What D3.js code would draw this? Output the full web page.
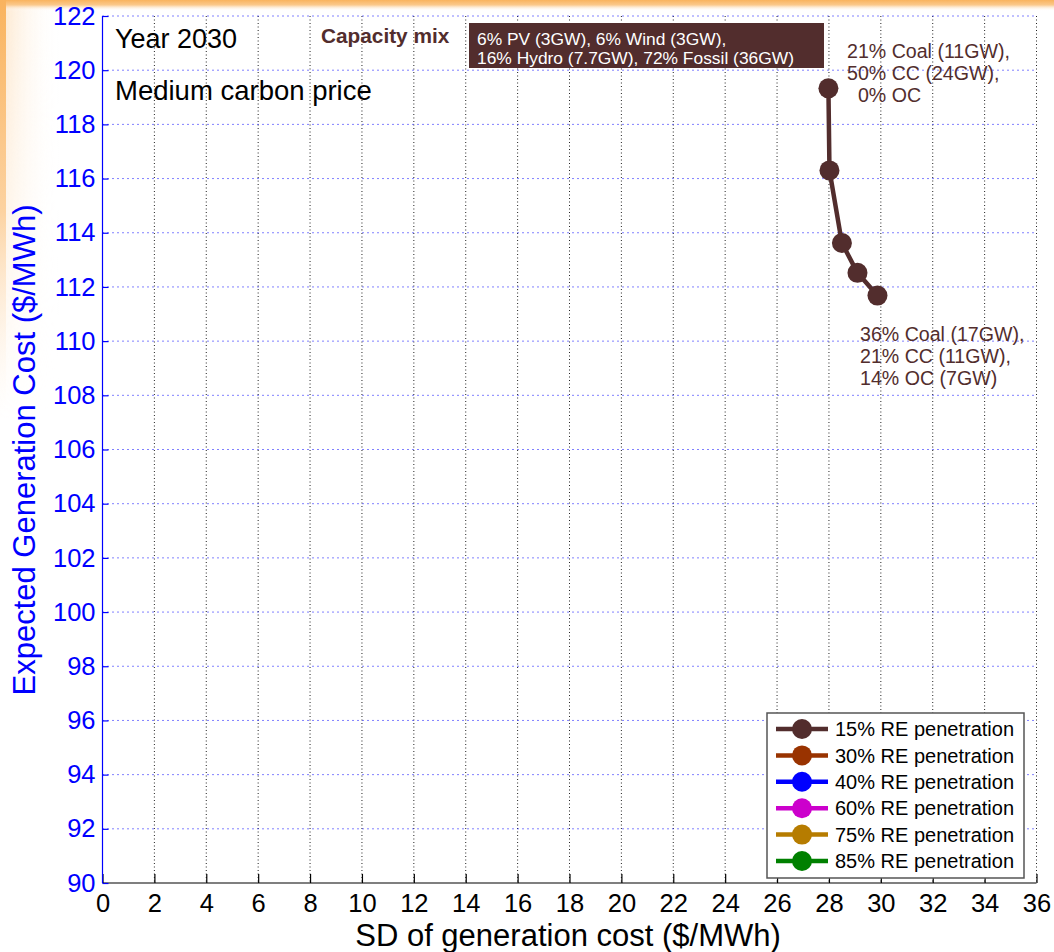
<!DOCTYPE html>
<html>
<head>
<meta charset="utf-8">
<script src="https://cdn.jsdelivr.net/npm/d3@7"></script>
<style>
  html, body { margin: 0; padding: 0; background: #fff; }
  svg { display: block; font-family: "Liberation Sans", Arial, sans-serif; }
</style>
</head>
<body>
<svg id="chart" width="1054" height="952"></svg>
<script>
// ---- data ----
const seriesNames = ["15% RE penetration", "30% RE penetration", "40% RE penetration",
                     "60% RE penetration", "75% RE penetration", "85% RE penetration"];
const seriesColors = ["#522d2d", "#993300", "#0000ff", "#cc00cc", "#b67c00", "#008000"];
// Only the 15% RE series has plotted points
const sd15 = [27.98, 28.02, 28.5, 29.1, 29.87];
const cost15 = [119.33, 116.3, 113.62, 112.52, 111.68];
const xTicks = d3.range(0, 37, 2);
const yTicks = d3.range(90, 123, 2);
const titleLines = ["Year 2030", "Medium carbon price"];
const capacityLabel = "Capacity mix";
const capacityLines = ["6% PV (3GW), 6% Wind (3GW),", "16% Hydro (7.7GW), 72% Fossil (36GW)"];
const topAnnotation = ["21% Coal (11GW),", "50% CC (24GW),", "  0% OC"];
const bottomAnnotation = ["36% Coal (17GW),", "21% CC (11GW),", "14% OC (7GW)"];
const xLabel = "SD of generation cost ($/MWh)";
const yLabel = "Expected Generation Cost ($/MWh)";

// ---- layout ----
const svg = d3.select("#chart");
const L = 102.5, R = 1036.5, T = 16, B = 883;
const x = d3.scaleLinear().domain([0, 36]).range([L, R]);
const y = d3.scaleLinear().domain([90, 122]).range([B, T]);

// background frame glow
const defs = svg.append("defs");
const gTop = defs.append("linearGradient").attr("id", "gTop").attr("x1", 0).attr("y1", 0).attr("x2", 0).attr("y2", 1);
gTop.append("stop").attr("offset", 0).attr("stop-color", "#f9b35e");
gTop.append("stop").attr("offset", 0.45).attr("stop-color", "#fbc98c");
gTop.append("stop").attr("offset", 1).attr("stop-color", "#ffffff").attr("stop-opacity", 0);
const gLeft = defs.append("linearGradient").attr("id", "gLeft").attr("x1", 0).attr("y1", 0).attr("x2", 0).attr("y2", 1);
gLeft.append("stop").attr("offset", 0).attr("stop-color", "#f9b35e");
gLeft.append("stop").attr("offset", 0.5).attr("stop-color", "#fcd2a0");
gLeft.append("stop").attr("offset", 1).attr("stop-color", "#ffffff").attr("stop-opacity", 0);
const gLeftSoft = defs.append("linearGradient").attr("id", "gLeftSoft").attr("x1", 0).attr("y1", 0).attr("x2", 1).attr("y2", 0);
gLeftSoft.append("stop").attr("offset", 0).attr("stop-color", "#fde3c4").attr("stop-opacity", 0.9);
gLeftSoft.append("stop").attr("offset", 1).attr("stop-color", "#ffffff").attr("stop-opacity", 0);
const mLeft = defs.append("mask").attr("id", "mLeft");
const gMask = defs.append("linearGradient").attr("id", "gMask").attr("x1", 0).attr("y1", 0).attr("x2", 0).attr("y2", 1);
gMask.append("stop").attr("offset", 0).attr("stop-color", "#fff");
gMask.append("stop").attr("offset", 1).attr("stop-color", "#000");
mLeft.append("rect").attr("x", 0).attr("y", 0).attr("width", 60).attr("height", 420).attr("fill", "url(#gMask)");

svg.append("rect").attr("x", 0).attr("y", 0).attr("width", 60).attr("height", 420)
  .attr("fill", "url(#gLeftSoft)").attr("mask", "url(#mLeft)");
svg.append("rect").attr("x", 0).attr("y", 0).attr("width", 1054).attr("height", 11).attr("fill", "url(#gTop)");
svg.append("rect").attr("x", 0).attr("y", 0).attr("width", 6).attr("height", 420).attr("fill", "url(#gLeft)");

// grid
const grid = svg.append("g");
grid.selectAll("line.vg").data(xTicks.filter(d => d > 0)).join("line")
  .attr("x1", d => x(d)).attr("x2", d => x(d)).attr("y1", T).attr("y2", B)
  .attr("stroke", "#222").attr("stroke-width", 1).attr("stroke-dasharray", "1,2.5");
grid.selectAll("line.hg").data(yTicks.filter(d => d > 90)).join("line")
  .attr("x1", L).attr("x2", R).attr("y1", d => y(d)).attr("y2", d => y(d))
  .attr("stroke", "#0000ff").attr("stroke-width", 1).attr("stroke-dasharray", "1,4");

// axes
const xAxis = d3.axisBottom(x).tickValues(xTicks).tickSize(-9).tickPadding(11).tickFormat(d3.format("d"));
const gx = svg.append("g").attr("transform", `translate(0,${B})`).call(xAxis);
gx.select(".domain").attr("stroke", "#000").attr("stroke-width", 1.2).attr("d", `M${L},0H${R}`);
gx.selectAll(".tick line").attr("stroke", "#000").attr("stroke-width", 1.2);
gx.selectAll(".tick text").attr("fill", "#000").attr("font-size", 25.5).attr("dy", "0.71em")
  .attr("font-family", "Liberation Sans, Arial, sans-serif");

const yAxis = d3.axisLeft(y).tickValues(yTicks).tickSize(-6).tickPadding(7).tickFormat(d3.format("d"));
const gy = svg.append("g").attr("transform", `translate(${L},0)`).call(yAxis);
gy.select(".domain").attr("stroke", "#0000ff").attr("stroke-width", 1.2).attr("d", `M0,${B}V${T}`);
gy.selectAll(".tick line").attr("stroke", "#0000ff").attr("stroke-width", 1.2);
gy.selectAll(".tick text").attr("fill", "#0000ff").attr("font-size", 25.5)
  .attr("font-family", "Liberation Sans, Arial, sans-serif");

// axis labels
svg.append("text").attr("x", 568).attr("y", 946).attr("text-anchor", "middle")
  .attr("font-size", 31).attr("fill", "#000").text(xLabel);
svg.append("text").attr("transform", "translate(35,450) rotate(-90)").attr("text-anchor", "middle")
  .attr("font-size", 31).attr("fill", "#0000ff").text(yLabel);

// series line and points
const pts = sd15.map((d, i) => [d, cost15[i]]);
svg.append("path").datum(pts)
  .attr("d", d3.line().x(d => x(d[0])).y(d => y(d[1])))
  .attr("fill", "none").attr("stroke", seriesColors[0]).attr("stroke-width", 4.5).attr("stroke-linejoin", "round");
svg.selectAll("circle.pt").data(pts).join("circle")
  .attr("cx", d => x(d[0])).attr("cy", d => y(d[1])).attr("r", 10)
  .attr("fill", seriesColors[0]);

// title texts
svg.append("text").attr("x", 115).attr("y", 48).attr("font-size", 27).attr("fill", "#000").text(titleLines[0]);
svg.append("text").attr("x", 115).attr("y", 100).attr("font-size", 27.5).attr("fill", "#000").text(titleLines[1]);

// capacity mix
svg.append("text").attr("x", 321).attr("y", 43).attr("font-size", 20.8).attr("font-weight", "bold")
  .attr("fill", "#522d2d").text(capacityLabel);
svg.append("rect").attr("x", 469).attr("y", 23).attr("width", 355).attr("height", 45).attr("fill", "#522d2d");
capacityLines.forEach((t, i) => {
  svg.append("text").attr("x", 477).attr("y", 45 + i * 19).attr("font-size", 17.4).attr("fill", "#fff").text(t);
});

// annotations
topAnnotation.forEach((t, i) => {
  svg.append("text").attr("x", 847).attr("y", 58 + i * 22).attr("font-size", 19.6).attr("fill", "#522d2d")
    .attr("xml:space", "preserve").style("white-space", "pre").text(t);
});
bottomAnnotation.forEach((t, i) => {
  svg.append("text").attr("x", 860).attr("y", 341 + i * 22).attr("font-size", 19.6).attr("fill", "#522d2d").text(t);
});

// legend
const lg = svg.append("g");
lg.append("rect").attr("x", 767).attr("y", 713).attr("width", 257).attr("height", 165)
  .attr("fill", "#fff").attr("stroke", "#555").attr("stroke-width", 1.5);
const rowY = i => 729 + i * 26.4;
seriesNames.forEach((name, i) => {
  lg.append("line").attr("x1", 776).attr("x2", 828).attr("y1", rowY(i)).attr("y2", rowY(i))
    .attr("stroke", seriesColors[i]).attr("stroke-width", 4.5);
  lg.append("circle").attr("cx", 802).attr("cy", rowY(i)).attr("r", 10).attr("fill", seriesColors[i]);
  lg.append("text").attr("x", 835).attr("y", rowY(i)).attr("dy", "0.36em").attr("font-size", 20)
    .attr("fill", "#000").text(name);
});
</script>
</body>
</html>
